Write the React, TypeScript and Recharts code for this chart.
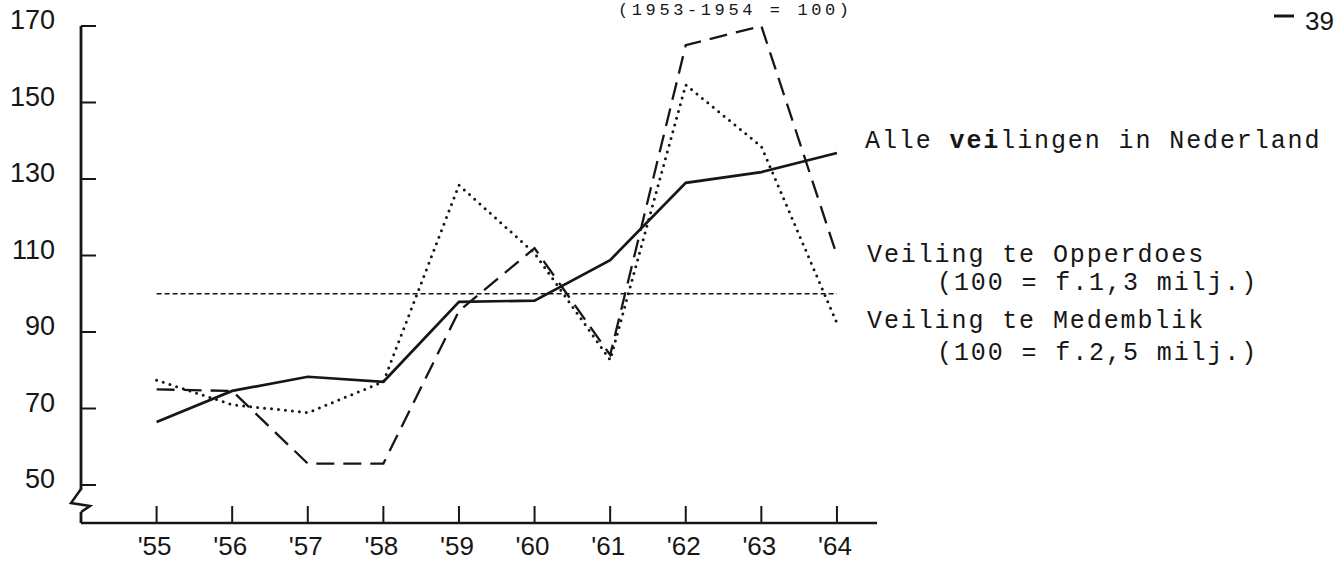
import React from 'react';
import { LineChart, Line, XAxis, YAxis, ReferenceLine } from 'recharts';

const years = [55, 56, 57, 58, 59, 60, 61, 62, 63, 64];
const yearLabels = ["'55", "'56", "'57", "'58", "'59", "'60", "'61", "'62", "'63", "'64"];
const alleVeilingen = [66.5, 74.6, 78.3, 77, 97.9, 98.2, 108.8, 129, 131.8, 136.8];
const opperdoes = [75, 74.6, 55.6, 55.6, 95.5, 111.9, 84, 165, 170, 110];
const medemblik = [77.4, 71, 68.9, 77, 128.4, 110.6, 82.7, 154.6, 138.5, 92.3];
const yTicks = [50, 70, 90, 110, 130, 150, 170];
const baseIndex = 100;

const data = years.map((y, i) => ({
  year: y,
  alle: alleVeilingen[i],
  opp: opperdoes[i],
  med: medemblik[i],
}));

const INK = '#161616';
const SANS = '"Liberation Sans", Arial, sans-serif';
const MONO = '"Liberation Mono", "DejaVu Sans Mono", monospace';

const XTick = (props: any) => {
  const { x, y, payload } = props;
  const idx = years.indexOf(payload.value);
  return (
    <g>
      <line x1={x} y1={y} x2={x} y2={y - 17} stroke={INK} strokeWidth={2} />
      <text x={x - 2} y={y + 32} textAnchor="middle" fontFamily={SANS} fontSize={26} fill={INK}>
        {idx >= 0 ? yearLabels[idx] : payload.value}
      </text>
    </g>
  );
};

const YTick = (props: any) => {
  const { x, y, payload } = props;
  const isBottom = payload.value === yTicks[0];
  return (
    <g>
      <line x1={x} y1={y} x2={x + 15} y2={y} stroke={INK} strokeWidth={2} />
      <text x={x - 26} y={y + 3} textAnchor="end" fontFamily={SANS} fontSize={27} fill={INK}>
        {payload.value}
      </text>
      {isBottom && (
        <g>
          <rect x={x - 4} y={y + 5} width={8} height={22} fill="#fff" />
          <polyline
            points={`${x},${y + 4} ${x - 10},${y + 18} ${x + 9},${y + 21} ${x},${y + 27}`}
            fill="none"
            stroke={INK}
            strokeWidth={2.5}
            strokeLinejoin="miter"
          />
        </g>
      )}
    </g>
  );
};

export default function App() {
  return (
    <div style={{ position: 'absolute', left: 0, top: 0, width: 1338, height: 562, background: '#fff' }}>
      <LineChart
        width={1338}
        height={562}
        data={data}
        margin={{ top: 26, right: 461, bottom: 0, left: 21 }}
      >
        <XAxis
          dataKey="year"
          type="number"
          domain={[54, 64.53]}
          ticks={years}
          allowDataOverflow
          height={39}
          tickSize={0}
          tickMargin={0}
          tickLine={false}
          axisLine={{ stroke: INK, strokeWidth: 2.5 }}
          tick={<XTick />}
          interval={0}
        />
        <YAxis
          type="number"
          domain={[40.07, 170]}
          ticks={yTicks}
          allowDataOverflow
          width={60}
          tickSize={0}
          tickMargin={0}
          tickLine={false}
          axisLine={{ stroke: INK, strokeWidth: 2.8 }}
          tick={<YTick />}
          interval={0}
        />
        <ReferenceLine
          segment={[{ x: years[0], y: baseIndex }, { x: years[years.length - 1], y: baseIndex }]}
          stroke={INK}
          strokeWidth={1.3}
          strokeDasharray="5 3"
        />
        <Line
          type="linear"
          dataKey="med"
          stroke={INK}
          strokeWidth={3}
          strokeDasharray="0 7"
          strokeLinecap="round"
          dot={false}
          isAnimationActive={false}
        />
        <Line
          type="linear"
          dataKey="opp"
          stroke={INK}
          strokeWidth={2.3}
          strokeDasharray="18 9"
          dot={false}
          isAnimationActive={false}
        />
        <Line
          type="linear"
          dataKey="alle"
          stroke={INK}
          strokeWidth={2.7}
          dot={false}
          isAnimationActive={false}
        />
      </LineChart>
      <svg
        width={1338}
        height={562}
        style={{ position: 'absolute', left: 0, top: 0, pointerEvents: 'none' }}
      >
        <text x={618} y={15} fontFamily={MONO} fontSize={17} fill={INK} letterSpacing={3.6}>
          (1953-1954 = 100)
        </text>
        <line x1={1274} y1={16} x2={1294} y2={16} stroke={INK} strokeWidth={3} />
        <text x={1305} y={30} fontFamily={SANS} fontSize={26} fill={INK}>39</text>
        <g fontFamily={MONO} fontSize={25} fill={INK} letterSpacing={1.9}>
          <text x={865} y={148}>
            Alle <tspan fontWeight="bold">vei</tspan>lingen in Nederland
          </text>
          <text x={867} y={262}>Veiling te Opperdoes</text>
          <text x={937} y={290}>(100 = f.1,3 milj.)</text>
          <text x={867} y={328}>Veiling te Medemblik</text>
          <text x={937} y={360}>(100 = f.2,5 milj.)</text>
        </g>
      </svg>
    </div>
  );
}
